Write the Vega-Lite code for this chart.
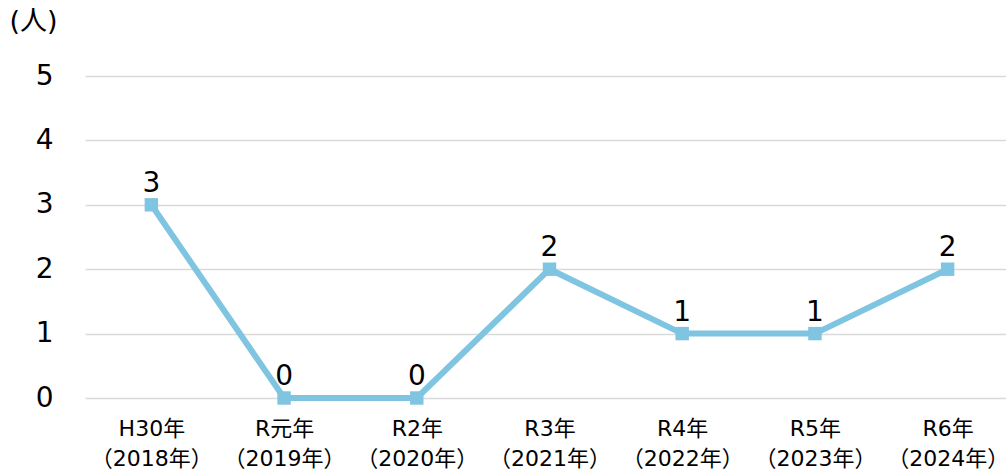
{
  "$schema": "https://vega.github.io/schema/vega-lite/v6.json",
  "width": 929,
  "height": 322,
  "autosize": {"type": "none"},
  "padding": {"left": 85, "top": 76, "right": 0, "bottom": 76},
  "background": "white",
  "config": {
    "view": {"stroke": null},
    "font": "DejaVu Sans",
    "text": {"font": "DejaVu Sans"}
  },
  "data": {
    "values": [
      {"year": "H30年\n（2018年）", "n": 3},
      {"year": "R元年\n（2019年）", "n": 0},
      {"year": "R2年\n（2020年）", "n": 0},
      {"year": "R3年\n（2021年）", "n": 2},
      {"year": "R4年\n（2022年）", "n": 1},
      {"year": "R5年\n（2023年）", "n": 1},
      {"year": "R6年\n（2024年）", "n": 2}
    ]
  },
  "encoding": {
    "x": {
      "field": "year",
      "type": "nominal",
      "sort": null,
      "scale": {"type": "point", "padding": 0.5},
      "axis": {
        "title": null,
        "labelAngle": 0,
        "labelExpr": "split(datum.label, '\\n')",
        "labelFont": "DejaVu Sans, Noto Sans CJK JP",
        "labelFontSize": 22,
        "labelLineHeight": 30,
        "labelColor": "#000000",
        "labelPadding": 20,
        "domain": false,
        "ticks": false,
        "grid": false
      }
    },
    "y": {
      "field": "n",
      "type": "quantitative",
      "scale": {"domain": [0, 5]},
      "axis": {
        "values": [0, 1, 2, 3, 4, 5],
        "title": "(人)",
        "titleAngle": 0,
        "titleAlign": "left",
        "titleBaseline": "top",
        "titleX": -76,
        "titleY": -68,
        "titleFont": "DejaVu Sans, Noto Sans CJK JP",
        "titleFontSize": 27,
        "titleFontWeight": "normal",
        "titleColor": "#000000",
        "labelFontSize": 28,
        "labelColor": "#000000",
        "labelPadding": 32,
        "domain": false,
        "ticks": false,
        "gridColor": "#d9d9d9",
        "gridWidth": 1.5
      }
    }
  },
  "layer": [
    {
      "mark": {"type": "line", "color": "#7fc4e0", "strokeWidth": 6}
    },
    {
      "mark": {"type": "point", "shape": "square", "filled": true, "opacity": 1, "color": "#7fc4e0", "size": 180}
    },
    {
      "mark": {"type": "text", "fontSize": 28, "baseline": "bottom", "dy": -7, "color": "#000000"},
      "encoding": {"text": {"field": "n", "type": "quantitative"}}
    }
  ]
}
